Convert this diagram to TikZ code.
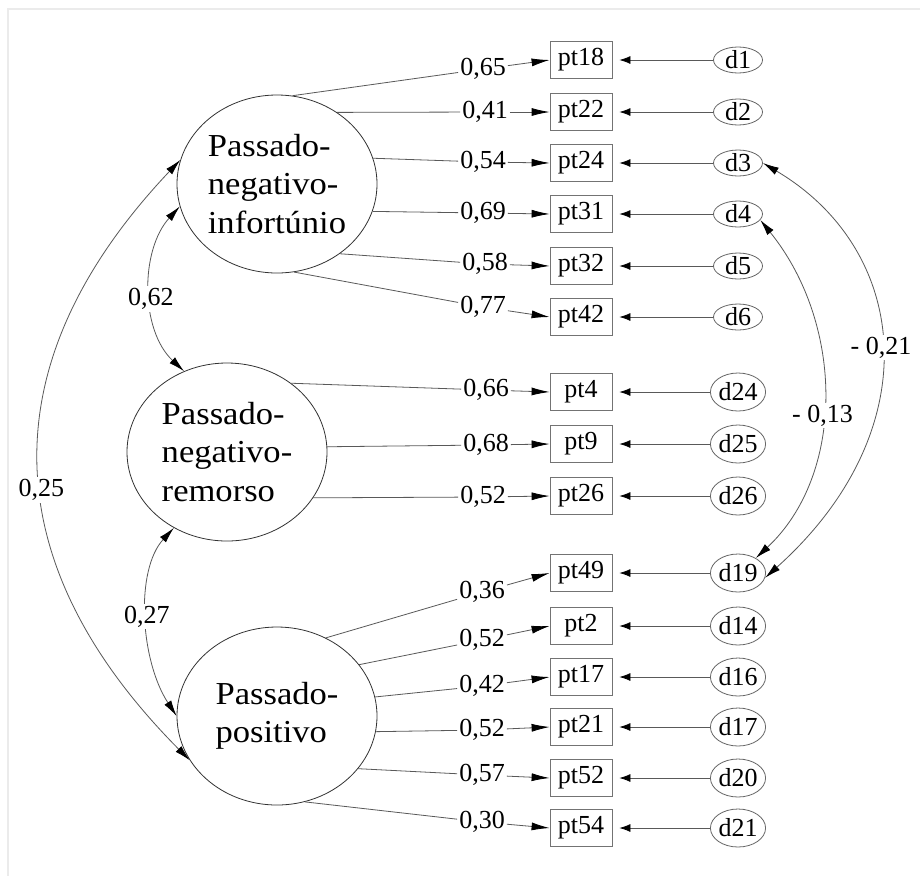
\documentclass[tikz,border=0pt]{standalone}
\usepackage{fontspec}
\setmainfont{Liberation Serif}
\newfontfamily\latfont[FakeStretch=1.08]{Liberation Serif}
\usetikzlibrary{shapes.geometric,arrows.meta}

\tikzset{
  latent/.style={ellipse, draw=black!80, line width=0.8pt, minimum width=200pt, minimum height=178pt,
    inner sep=0pt, align=left, font=\latfont\fontsize{32}{38.5}\selectfont},
  item/.style={draw=black!55, line width=0.8pt, minimum width=62pt, minimum height=37pt, inner sep=0pt,
    font=\fontsize{26}{30}\selectfont},
  err/.style={ellipse, draw=black!60, line width=0.8pt, minimum width=49pt, minimum height=26pt, inner sep=0pt,
    font=\fontsize{26}{30}\selectfont},
  errbig/.style={err, minimum height=38pt},
  coef/.style={fill=white, inner sep=2pt, font=\fontsize{26}{30}\selectfont},
  link/.style={draw=black!65, line width=0.8pt},
  load/.style={link, -{Latex[length=18pt,width=8pt,color=black]}},
  res/.style={link, -{Latex[length=11pt,width=8pt,color=black]}, shorten >=7pt},
  cov/.style={link, {Latex[length=16pt,width=8pt,color=black]}-{Latex[length=16pt,width=8pt,color=black]}}
}

\begin{document}
\begin{tikzpicture}[x=1pt, y=-1pt]
\useasboundingbox[fill=white] (0,0) rectangle (920,876);
\draw[black!8, line width=1.5pt] (920,9) -- (8,9) -- (8,876);

% latent factors
\node[latent] (inf) at (277,184) {Passado-\\negativo-\\infortúnio};
\node[latent] (rem) at (227,452) {Passado-\\negativo-\\remorso};
\node[latent] (pos) at (277,716) {Passado-\\positivo};

% items
\node[item] (pt18) at (581,60) {pt18};
\node[item] (pt22) at (581,112) {pt22};
\node[item] (pt24) at (581,163) {pt24};
\node[item] (pt31) at (581,214) {pt31};
\node[item] (pt32) at (581,266) {pt32};
\node[item] (pt42) at (581,317) {pt42};
\node[item] (pt4) at (581,392) {pt4};
\node[item] (pt9) at (581,444) {pt9};
\node[item] (pt26) at (581,496) {pt26};
\node[item] (pt49) at (581,573) {pt49};
\node[item] (pt2) at (581,626) {pt2};
\node[item] (pt17) at (581,677) {pt17};
\node[item] (pt21) at (581,727) {pt21};
\node[item] (pt52) at (581,778) {pt52};
\node[item] (pt54) at (581,828) {pt54};

% residuals
\node[err] (d1) at (738,60) {d1};
\node[err] (d2) at (738,112) {d2};
\node[err] (d3) at (738,163) {d3};
\node[err] (d4) at (738,214) {d4};
\node[err] (d5) at (738,266) {d5};
\node[err] (d6) at (738,317) {d6};
\node[errbig] (d24) at (738,392) {d24};
\node[errbig] (d25) at (738,444) {d25};
\node[errbig] (d26) at (738,496) {d26};
\node[errbig] (d19) at (738,573) {d19};
\node[errbig] (d14) at (738,626) {d14};
\node[errbig] (d16) at (738,677) {d16};
\node[errbig] (d17) at (738,727) {d17};
\node[errbig] (d20) at (738,778) {d20};
\node[errbig] (d21) at (738,828) {d21};

% loadings
\node[coef] (l18) at (483,69) {0,65};
\node[coef] (l22) at (485,112) {0,41};
\node[coef] (l24) at (483,162) {0,54};
\node[coef] (l31) at (483,213) {0,69};
\node[coef] (l32) at (485,264) {0,58};
\node[coef] (l42) at (483,307) {0,77};
\node[coef] (l4) at (486,390) {0,66};
\node[coef] (l9) at (486,445) {0,68};
\node[coef] (l26) at (483,497) {0,52};
\node[coef] (l49) at (482,592) {0,36};
\node[coef] (l2) at (482,640) {0,52};
\node[coef] (l17) at (482,686) {0,42};
\node[coef] (l21) at (482,730) {0,52};
\node[coef] (l52) at (482,775) {0,57};
\node[coef] (l54) at (482,822) {0,30};

\draw[link] (inf.80) -- (l18);  \draw[load] (l18) -- (pt18.west);
\draw[link] (inf.50) -- (l22);  \draw[load] (l22) -- (pt22.west);
\draw[link] (inf.15) -- (l24);  \draw[load] (l24) -- (pt24.west);
\draw[link] (inf.-16) -- (l31); \draw[load] (l31) -- (pt31.west);
\draw[link] (inf.-48) -- (l32); \draw[load] (l32) -- (pt32.west);
\draw[link] (inf.-79) -- (l42); \draw[load] (l42) -- (pt42.west);
\draw[link] (rem.47) -- (l4);   \draw[load] (l4) -- (pt4.west);
\draw[link] (rem.3) -- (l9);    \draw[load] (l9) -- (pt9.west);
\draw[link] (rem.-28) -- (l26); \draw[load] (l26) -- (pt26.west);
\draw[link] (pos.58) -- (l49);  \draw[load] (l49) -- (pt49.west);
\draw[link] (pos.32) -- (l2);   \draw[load] (l2) -- (pt2.west);
\draw[link] (pos.11) -- (l17);  \draw[load] (l17) -- (pt17.west);
\draw[link] (pos.-9) -- (l21);  \draw[load] (l21) -- (pt21.west);
\draw[link] (pos.-33) -- (l52); \draw[load] (l52) -- (pt52.west);
\draw[link] (pos.-72) -- (l54); \draw[load] (l54) -- (pt54.west);

% residual paths
\draw[res] (d1) -- (pt18);
\draw[res] (d2) -- (pt22);
\draw[res] (d3) -- (pt24);
\draw[res] (d4) -- (pt31);
\draw[res] (d5) -- (pt32);
\draw[res] (d6) -- (pt42);
\draw[res] (d24) -- (pt4);
\draw[res] (d25) -- (pt9);
\draw[res] (d26) -- (pt26);
\draw[res] (d19) -- (pt49);
\draw[res] (d14) -- (pt2);
\draw[res] (d16) -- (pt17);
\draw[res] (d17) -- (pt21);
\draw[res] (d20) -- (pt52);
\draw[res] (d21) -- (pt54);

% factor correlations
\draw[cov] (inf.193) .. controls (140,250) and (140,330) .. node[coef, pos=0.55] {0,62} (rem.118);
\draw[cov] (rem.235) .. controls (135,570) and (140,660) .. node[coef] {0,27} (pos.180);
\draw[cov] (inf.166) .. controls (-9,360) and (-9,560) .. node[coef, pos=0.55] {0,25} (pos.207);

% error correlations
\draw[cov] (d4.-15) .. controls (845,325) and (845,475) .. node[coef, pos=0.55] {- 0,13} (d19.40);
\draw[cov] (d3.east) .. controls (910,250) and (930,430) .. node[coef] {- 0,21} (d19.-10);
\end{tikzpicture}
\end{document}
